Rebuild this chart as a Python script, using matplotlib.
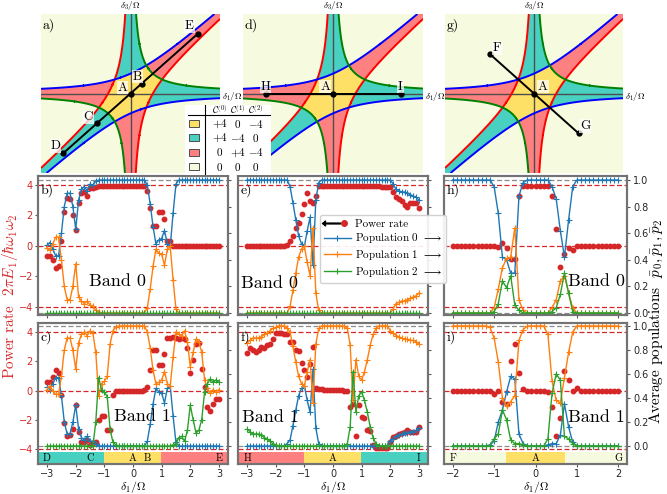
import numpy as np
import matplotlib.pyplot as plt
from matplotlib.colors import ListedColormap
from matplotlib.lines import Line2D
from matplotlib.patches import Rectangle
from matplotlib.legend_handler import HandlerTuple

plt.rcParams['mathtext.fontset'] = 'cm'
plt.rcParams['font.family'] = ['DejaVu Sans']
SERIF = 'cmr10'

RED = '#d62728'
LINE_COLORS = ['#1f77b4', '#ff7f0e', '#2ca02c']
# yellow, teal, pink, pale (trivial)
REGION_COLORS = ['#FFE066', '#48D1C0', '#FF8080', '#F6FADF']
cmap_regions = ListedColormap(REGION_COLORS)

# ==========================================
# phase diagram: gap constant and chern table
# ==========================================
GAP = 1.0
chern_rows = [['+4', '0', '-4'],
              ['+4', '-4', '0'],
              ['0', '+4', '-4'],
              ['0', '0', '0']]

# paths through the diagram (labels, delta1, delta3)
path_a_lab = ['D', 'C', 'A', 'B', 'E']
path_a_d1 = [-3.0, -1.5, 0.0, 0.5, 3.0]
path_a_d3 = [-3.0, -1.5, 0.0, 0.5, 3.0]
path_d_lab = ['H', 'A', 'I']
path_d_d1 = [-3.0, 0.0, 3.0]
path_d_d3 = [0.0, 0.0, 0.0]
path_g_lab = ['F', 'A', 'G']
path_g_d1 = [-2.0, 0.0, 2.0]
path_g_d3 = [2.0, 0.0, -2.0]

# ==========================================
# sweeps (delta1 along the path)
# ==========================================
x_long = np.round(np.arange(-30, 31) * 0.1, 1)
x_short = np.round(np.arange(-20, 21) * 0.1, 1)

# --- path D-E, band 0 (panel b)
pow_b = [-0.63, -0.63, -0.95, -1.45, -1.30, 0.30, 2.20, 3.15, 3.05, 2.00,
         1.05, 2.85, 3.50, 3.55, 3.30, 3.80, 3.80, 3.90, 3.95, 3.95,
         3.95, 3.95, 3.95, 3.95, 3.95, 3.95, 3.95, 3.95, 3.95, 3.95,
         3.95, 3.95, 3.95, 3.95, 3.95, 3.60, 2.50, 1.30, 1.30, 2.20,
         2.20, 1.75, 0.30, 0.30, 0.00, 0.00, 0.00, 0.00, 0.00, 0.00,
         0.00, 0.00, 0.00, 0.00, 0.00, 0.00, 0.00, 0.00, 0.00, 0.00,
         0.00]
p0_b = [0.51, 0.53, 0.48, 0.43, 0.43, 0.60, 0.80, 0.90, 0.90, 0.80,
        0.63, 0.85, 0.93, 0.95, 0.92, 0.97, 0.96, 0.99, 1.00, 1.00,
        1.00, 1.00, 1.00, 1.00, 1.00, 1.00, 1.00, 1.00, 1.00, 1.00,
        1.00, 1.00, 1.00, 1.00, 1.00, 0.96, 0.82, 0.65, 0.52, 0.55,
        0.56, 0.62, 0.52, 0.50, 0.75, 0.97, 1.00, 1.00, 1.00, 1.00,
        1.00, 1.00, 1.00, 1.00, 1.00, 1.00, 1.00, 1.00, 1.00, 1.00,
        1.00]
p1_b = [0.49, 0.47, 0.52, 0.57, 0.57, 0.40, 0.20, 0.10, 0.10, 0.20,
        0.37, 0.12, 0.09, 0.07, 0.09, 0.06, 0.05, 0.02, 0.01, 0.00,
        0.00, 0.00, 0.00, 0.00, 0.00, 0.00, 0.00, 0.00, 0.00, 0.00,
        0.00, 0.00, 0.00, 0.00, 0.00, 0.04, 0.18, 0.35, 0.48, 0.45,
        0.44, 0.36, 0.48, 0.50, 0.25, 0.03, 0.00, 0.00, 0.00, 0.00,
        0.00, 0.00, 0.00, 0.00, 0.00, 0.00, 0.00, 0.00, 0.00, 0.00,
        0.00]
p2_b = [0.0] * 61

# --- path D-E, band 1 (panel c)
pow_c = [0.60, 0.60, 0.90, 1.40, 1.20, -0.30, -2.20, -3.10, -3.05, -2.60,
         -1.00, -2.80, -3.50, -3.50, -3.40, -3.70, -3.60, -3.55, -2.00, -1.77,
         -1.77, -2.68, -2.68, -0.30, 0.00, 0.00, 0.00, 0.00, 0.00, 0.00,
         0.00, 0.00, 0.00, 0.00, 0.05, 0.27, 1.40, 2.75, 2.75, 1.75,
         1.75, 2.50, 3.60, 3.60, 3.65, 3.60, 3.50, 3.60, 3.55, 2.90,
         1.20, 2.10, 3.20, 3.25, 1.50, 0.27, -1.10, -1.40, -0.90, -0.57,
         -0.57]
p0_c = [0.49, 0.47, 0.52, 0.57, 0.57, 0.42, 0.20, 0.10, 0.10, 0.20,
        0.34, 0.14, 0.07, 0.05, 0.08, 0.04, 0.04, 0.02, 0.00, 0.00,
        0.00, 0.00, 0.00, 0.00, 0.00, 0.00, 0.00, 0.00, 0.00, 0.00,
        0.00, 0.00, 0.00, 0.00, 0.00, 0.04, 0.18, 0.35, 0.48, 0.45,
        0.44, 0.36, 0.48, 0.50, 0.25, 0.03, 0.00, 0.00, 0.00, 0.00,
        0.00, 0.00, 0.00, 0.00, 0.00, 0.00, 0.00, 0.00, 0.00, 0.00,
        0.00]
p1_c = [0.47, 0.50, 0.46, 0.43, 0.43, 0.58, 0.80, 0.90, 0.90, 0.80,
        0.64, 0.86, 0.93, 0.95, 0.92, 0.96, 0.94, 0.78, 0.42, 0.52,
        0.54, 0.58, 0.85, 0.96, 0.99, 1.00, 1.00, 1.00, 1.00, 1.00,
        1.00, 1.00, 1.00, 1.00, 1.00, 0.95, 0.82, 0.63, 0.52, 0.53,
        0.55, 0.62, 0.52, 0.50, 0.74, 0.95, 0.93, 0.92, 0.96, 0.87,
        0.66, 0.78, 0.89, 0.87, 0.78, 0.55, 0.48, 0.44, 0.47, 0.45,
        0.47]
p2_c = [0.00, 0.00, 0.00, 0.00, 0.00, 0.00, 0.00, 0.00, 0.00, 0.00,
        0.00, 0.00, 0.00, 0.00, 0.00, 0.00, 0.00, 0.20, 0.57, 0.47,
        0.45, 0.41, 0.14, 0.03, 0.01, 0.00, 0.00, 0.00, 0.00, 0.00,
        0.00, 0.00, 0.00, 0.00, 0.00, 0.00, 0.00, 0.00, 0.00, 0.00,
        0.00, 0.00, 0.00, 0.00, 0.01, 0.02, 0.07, 0.08, 0.04, 0.13,
        0.34, 0.22, 0.11, 0.13, 0.22, 0.45, 0.52, 0.56, 0.53, 0.55,
        0.53]

# --- path H-I, band 0 (panel e)
pow_e = [0.00, 0.00, 0.00, 0.00, 0.00, 0.00, 0.00, 0.00, 0.00, 0.00,
         0.00, 0.00, 0.00, 0.00, 0.05, 0.30, 0.65, 1.15, 1.50, 2.10,
         2.75, 3.50, 2.95, 2.85, 3.30, 3.95, 3.95, 3.95, 3.95, 3.95,
         3.95, 3.95, 3.95, 3.95, 3.95, 3.95, 3.95, 3.95, 3.95, 3.95,
         3.95, 3.95, 3.95, 3.95, 3.93, 3.92, 3.92, 3.90, 3.90, 3.88,
         3.85, 3.55, 3.20, 3.10, 2.95, 2.70, 2.55, 2.85, 2.85, 2.80,
         2.50]
p0_e = [1.00, 1.00, 1.00, 1.00, 1.00, 1.00, 1.00, 1.00, 1.00, 1.00,
        1.00, 1.00, 1.00, 1.00, 1.00, 0.95, 0.83, 0.70, 0.58, 0.52,
        0.50, 0.62, 0.72, 0.36, 0.85, 0.98, 1.00, 1.00, 1.00, 1.00,
        1.00, 1.00, 1.00, 1.00, 1.00, 1.00, 1.00, 1.00, 1.00, 1.00,
        1.00, 1.00, 1.00, 1.00, 1.00, 1.00, 1.00, 1.00, 1.00, 1.00,
        1.00, 0.97, 0.93, 0.92, 0.91, 0.91, 0.90, 0.89, 0.88, 0.87,
        0.85]
p1_e = [0.00, 0.00, 0.00, 0.00, 0.00, 0.00, 0.00, 0.00, 0.00, 0.00,
        0.00, 0.00, 0.00, 0.00, 0.00, 0.05, 0.17, 0.30, 0.42, 0.48,
        0.50, 0.38, 0.28, 0.64, 0.15, 0.02, 0.00, 0.00, 0.00, 0.00,
        0.00, 0.00, 0.00, 0.00, 0.00, 0.00, 0.00, 0.00, 0.00, 0.00,
        0.00, 0.00, 0.00, 0.00, 0.00, 0.00, 0.00, 0.00, 0.00, 0.00,
        0.00, 0.03, 0.07, 0.08, 0.09, 0.09, 0.10, 0.11, 0.12, 0.13,
        0.15]
p2_e = [0.0] * 61

# --- path H-I, band 1 (panel f)
pow_f = [2.55, 2.90, 2.80, 2.65, 2.75, 3.00, 2.90, 3.10, 3.20, 3.55,
         3.95, 3.95, 3.95, 3.90, 3.90, 3.35, 3.30, 2.80, 2.70, 1.90,
         1.40, 0.95, 1.85, 2.95, 0.20, 0.10, 0.08, 0.07, 0.06, 0.05,
         0.05, 0.04, 0.03, 0.02, 0.00, -0.05, -1.10, -0.90, -3.10, -1.00,
         -1.80, -1.90, -2.70, -2.75, -3.75, -3.90, -3.95, -3.95, -3.95, -3.90,
         -3.55, -3.15, -3.10, -3.00, -2.90, -2.80, -2.70, -2.85, -2.80, -2.85,
         -2.50]
p0_f = [0.00, 0.00, 0.00, 0.00, 0.00, 0.00, 0.00, 0.00, 0.00, 0.00,
        0.00, 0.00, 0.00, 0.00, 0.02, 0.05, 0.17, 0.30, 0.42, 0.48,
        0.50, 0.38, 0.28, 0.64, 0.15, 0.02, 0.00, 0.00, 0.00, 0.00,
        0.00, 0.00, 0.00, 0.00, 0.00, 0.00, 0.00, 0.00, 0.00, 0.00,
        0.00, 0.00, 0.00, 0.00, 0.00, 0.00, 0.00, 0.00, 0.00, 0.00,
        0.04, 0.06, 0.08, 0.09, 0.10, 0.11, 0.11, 0.12, 0.12, 0.13,
        0.15]
p1_f = [0.86, 0.88, 0.90, 0.90, 0.90, 0.91, 0.93, 0.94, 0.96, 0.98,
        0.99, 1.00, 1.00, 1.00, 0.98, 0.95, 0.83, 0.70, 0.58, 0.52,
        0.50, 0.62, 0.72, 0.36, 0.85, 0.98, 1.00, 1.00, 1.00, 1.00,
        1.00, 1.00, 1.00, 1.00, 1.00, 0.98, 0.84, 0.38, 0.72, 0.58,
        0.55, 0.62, 0.72, 0.84, 0.93, 0.98, 1.00, 1.00, 1.00, 1.00,
        0.96, 0.94, 0.92, 0.91, 0.90, 0.89, 0.89, 0.88, 0.88, 0.87,
        0.85]
p2_f = [0.14, 0.12, 0.10, 0.10, 0.10, 0.09, 0.07, 0.06, 0.04, 0.02,
        0.01, 0.00, 0.00, 0.00, 0.00, 0.00, 0.00, 0.00, 0.00, 0.00,
        0.00, 0.00, 0.00, 0.00, 0.00, 0.00, 0.00, 0.00, 0.00, 0.00,
        0.00, 0.00, 0.00, 0.00, 0.00, 0.02, 0.16, 0.62, 0.28, 0.42,
        0.45, 0.38, 0.28, 0.16, 0.07, 0.02, 0.00, 0.00, 0.00, 0.00,
        0.00, 0.00, 0.00, 0.00, 0.00, 0.00, 0.00, 0.00, 0.00, 0.00,
        0.00]

# --- path F-G, band 0 (panel h)
pow_h = [0.00, 0.00, 0.00, 0.00, 0.00, 0.00, 0.00, 0.00, 0.00, 0.00,
         0.00, -0.10, 0.20, -0.15, -0.85, -0.85, 3.30, 3.95, 3.95, 3.95,
         3.95, 3.95, 3.95, 3.95, 3.30, 1.10, -1.40, -0.50, -0.15, -0.25,
         0.00, 0.00, 0.00, 0.00, 0.00, 0.00, 0.00, 0.00, 0.00, 0.00,
         0.00]
p0_h = [1.00, 1.00, 1.00, 1.00, 1.00, 1.00, 1.00, 1.00, 1.00, 1.00,
        0.95, 0.75, 0.42, 0.40, 0.30, 0.30, 0.88, 0.98, 1.00, 1.00,
        1.00, 1.00, 1.00, 1.00, 0.95, 0.86, 0.62, 0.42, 0.70, 0.95,
        1.00, 1.00, 1.00, 1.00, 1.00, 1.00, 1.00, 1.00, 1.00, 1.00,
        1.00]
p1_h = [0.00, 0.00, 0.00, 0.00, 0.00, 0.00, 0.00, 0.00, 0.00, 0.00,
        0.04, 0.18, 0.34, 0.41, 0.42, 0.64, 0.10, 0.02, 0.00, 0.00,
        0.00, 0.00, 0.00, 0.00, 0.04, 0.10, 0.24, 0.28, 0.15, 0.04,
        0.00, 0.00, 0.00, 0.00, 0.00, 0.00, 0.00, 0.00, 0.00, 0.00,
        0.00]
p2_h = [0.00, 0.00, 0.00, 0.00, 0.00, 0.00, 0.00, 0.00, 0.00, 0.00,
        0.01, 0.07, 0.24, 0.19, 0.28, 0.06, 0.02, 0.00, 0.00, 0.00,
        0.00, 0.00, 0.00, 0.00, 0.01, 0.04, 0.14, 0.30, 0.15, 0.01,
        0.00, 0.00, 0.00, 0.00, 0.00, 0.00, 0.00, 0.00, 0.00, 0.00,
        0.00]

# --- path F-G, band 1 (panel i)
pow_i = [0.00, 0.00, 0.00, 0.00, 0.00, 0.00, 0.00, 0.00, 0.00, -0.05,
         -0.25, 0.00, -0.75, -0.90, 2.00, 3.20, 1.20, 0.10, 0.00, 0.00,
         0.00, 0.00, 0.00, -0.10, -1.10, -3.10, -1.90, 1.35, 0.70, -0.05,
         0.20, 0.00, 0.00, 0.00, 0.00, 0.00, 0.00, 0.00, 0.00, 0.00,
         0.00]
p0_i = [0.00, 0.00, 0.00, 0.00, 0.00, 0.00, 0.00, 0.00, 0.00, 0.01,
        0.04, 0.20, 0.30, 0.45, 0.58, 0.56, 0.10, 0.02, 0.00, 0.00,
        0.00, 0.00, 0.00, 0.01, 0.02, 0.02, 0.09, 0.35, 0.16, 0.03,
        0.00, 0.00, 0.00, 0.00, 0.00, 0.00, 0.00, 0.00, 0.00, 0.00,
        0.00]
p1_i = [1.00, 1.00, 1.00, 1.00, 1.00, 1.00, 1.00, 1.00, 1.00, 0.99,
        0.90, 0.70, 0.40, 0.33, 0.37, 0.42, 0.88, 0.97, 1.00, 1.00,
        1.00, 1.00, 1.00, 0.93, 0.54, 0.38, 0.36, 0.57, 0.78, 0.95,
        1.00, 1.00, 1.00, 1.00, 1.00, 1.00, 1.00, 1.00, 1.00, 1.00,
        1.00]
p2_i = [0.00, 0.00, 0.00, 0.00, 0.00, 0.00, 0.00, 0.00, 0.00, 0.00,
        0.06, 0.10, 0.30, 0.22, 0.05, 0.02, 0.02, 0.01, 0.00, 0.00,
        0.00, 0.00, 0.00, 0.06, 0.44, 0.60, 0.55, 0.08, 0.06, 0.02,
        0.00, 0.00, 0.00, 0.00, 0.00, 0.00, 0.00, 0.00, 0.00, 0.00,
        0.00]


def region(d1, d3):
    # 0: central, 1: teal, 2: pink, 3: trivial
    fr = d1 * (d1 - d3) > GAP
    fb = d3 * (d3 - d1) > GAP
    fg = d1 * d3 > GAP
    n = fr.astype(int) + fb.astype(int) + fg.astype(int)
    teal = (fr & (d1 > 0)) | (fb & (d3 > 0)) | (fg & (d1 < 0))
    return np.where(n == 0, 0, np.where(n >= 2, 3, np.where(teal, 1, 2)))


def draw_phase(ax, d1p, d3p, labs, offs, tag):
    g = np.linspace(-4, 4, 801)
    D1, D3 = np.meshgrid(g, g)
    ax.imshow(region(D1, D3), cmap=cmap_regions, vmin=-0.5, vmax=3.5,
              origin='lower', extent=(-4, 4, -4, 4), aspect='auto',
              interpolation='nearest')
    ax.axhline(0, color='0.3', lw=1)
    ax.axvline(0, color='0.3', lw=1)
    ax.contour(D1, D3, D1 * (D1 - D3), levels=[GAP], colors='red', linewidths=1.4)
    ax.contour(D1, D3, D3 * (D3 - D1), levels=[GAP], colors='blue', linewidths=1.4)
    ax.contour(D1, D3, D1 * D3, levels=[GAP], colors='green', linewidths=1.4)
    ax.plot(d1p, d3p, color='k', lw=1.4)
    ax.plot(d1p, d3p, 'o', color='k', ms=3.5)
    for xv, yv, lab, (dx, dy) in zip(d1p, d3p, labs, offs):
        ax.text(xv + dx, yv + dy, lab, ha='center', va='center', family=SERIF,
                fontsize=9.5, bbox=dict(facecolor='white', alpha=0.75,
                                        edgecolor='none', pad=0.6))
    ax.text(0, 4.1, r'$\delta_3/\Omega$', ha='center', va='bottom', fontsize=6.5)
    ax.text(4.08, -0.15, r'$\delta_1/\Omega$', ha='left', va='center', fontsize=6.5)
    ax.text(-3.92, 3.45, tag, family=SERIF, fontsize=10, va='center')
    ax.set_xlim(-4, 4)
    ax.set_ylim(-4, 4)
    ax.axis('off')


def draw_band(ax, x, pw, pops, pd1, pd3, plab, tag, band, bpos, bha, bottom, col):
    lo_l, hi_l = (-5.02, 4.62) if bottom else (-4.53, 4.59)
    lo_r, hi_r = (-0.15, 1.025) if bottom else (-0.015, 1.03)
    span = x[-1] - x[0]
    x0, x1 = x[0] - 0.053 * span, x[-1] + 0.053 * span

    for yv in (4, 0, -4):
        ax.axhline(yv, color=RED, ls='--', lw=0.9, dashes=(4, 2))
    ax.plot(x, pw, 'o', color=RED, ms=3.2, ls='none', zorder=3)

    if bottom:
        xs = np.linspace(x0, x1, 900)
        slope = (pd3[-1] - pd3[0]) / (pd1[-1] - pd1[0])
        ax.imshow(region(xs, slope * xs)[None, :], cmap=cmap_regions, vmin=-0.5,
                  vmax=3.5, extent=(x0, x1, lo_l, -4.2), aspect='auto',
                  interpolation='nearest', zorder=1)
        for xv, lab in zip(pd1, plab):
            ax.text(xv, -4.62, lab, ha='center', va='center', family=SERIF,
                    fontsize=7.5, zorder=4)
        ax.set_xlabel(r'$\delta_1/\Omega$', fontsize=8.5, va='top')
        ax.xaxis.set_label_coords(0.5, -0.105)

    axr = ax.twinx()
    axr.axhline(1, color='0.55', ls='--', lw=0.9, dashes=(4, 2))
    axr.axhline(0, color='0.55', ls='--', lw=0.9, dashes=(4, 2))
    for p, c in zip(pops, LINE_COLORS):
        axr.plot(x, p, color=c, lw=1.0, marker='+', ms=4, mew=0.8)

    ax.set_xlim(x0, x1)
    ax.set_ylim(lo_l, hi_l)
    axr.set_ylim(lo_r, hi_r)
    ax.set_xticks(np.arange(x[0], x[-1] + 0.5, 1.0))
    ax.set_yticks([-4, -2, 0, 2, 4])
    axr.set_yticks([0.0, 0.2, 0.4, 0.6, 0.8, 1.0])
    axr.set_yticklabels(['0.0', '0.2', '0.4', '0.6', '0.8', '1.0'])

    ax.tick_params(axis='x', labelbottom=bottom, colors='0.35', labelcolor='0.15',
                   length=2.5, width=0.8, labelsize=7, pad=1)
    ax.tick_params(axis='y', left=(col == 0), labelleft=(col == 0), colors='0.35',
                   labelcolor=RED, length=2.5, width=0.8, labelsize=7, pad=1.2)
    axr.tick_params(axis='y', labelright=(col == 2), colors='0.35', labelcolor='0.15',
                    length=2.5, width=0.8, labelsize=7, pad=2)
    for a in (ax, axr):
        for s in a.spines.values():
            s.set_color('0.45')
            s.set_linewidth(1.5)

    axr.text(0.012, 0.9, tag, transform=ax.transAxes, family=SERIF, fontsize=10,
             va='center')
    axr.text(bpos[0], bpos[1], band, transform=ax.transAxes, family=SERIF,
             fontsize=13, ha=bha, va='center')


fig = plt.figure(figsize=(6.67, 4.94), dpi=100)
W, H = 667.0, 494.0

# ---- phase diagrams
ax_a = fig.add_axes([41 / W, 1 - 173 / H, 179 / W, 159 / H])
ax_d = fig.add_axes([243 / W, 1 - 173 / H, 180 / W, 159 / H])
ax_g = fig.add_axes([445 / W, 1 - 173 / H, 178 / W, 159 / H])
draw_phase(ax_a, path_a_d1, path_a_d3, path_a_lab,
           [(-0.35, 0.35), (-0.4, 0.3), (-0.36, 0.3), (-0.2, 0.35), (-0.37, 0.4)], 'a)')
draw_phase(ax_d, path_d_d1, path_d_d3, path_d_lab,
           [(0.0, 0.35), (-0.35, 0.35), (0.0, 0.35)], 'd)')
draw_phase(ax_g, path_g_d1, path_g_d3, path_g_lab,
           [(0.35, 0.3), (0.4, 0.35), (0.3, 0.35)], 'g)')

# ---- band panels
cols_l = [38 / W, 238 / W, 444 / W]
cols_w = [190 / W, 190 / W, 183 / W]
row_top = [1 - 315 / H, 139 / H]
row_bot = [1 - 464 / H, 141 / H]

panels = [
    (0, False, x_long, pow_b, [p0_b, p1_b, p2_b], path_a_d1, path_a_d3, path_a_lab, 'b)', 'Band 0', (0.42, 0.24), 'center'),
    (0, True, x_long, pow_c, [p0_c, p1_c, p2_c], path_a_d1, path_a_d3, path_a_lab, 'c)', 'Band 1', (0.55, 0.34), 'center'),
    (1, False, x_long, pow_e, [p0_e, p1_e, p2_e], path_d_d1, path_d_d3, path_d_lab, 'e)', 'Band 0', (0.015, 0.23), 'left'),
    (1, True, x_long, pow_f, [p0_f, p1_f, p2_f], path_d_d1, path_d_d3, path_d_lab, 'f)', 'Band 1', (0.02, 0.33), 'left'),
    (2, False, x_short, pow_h, [p0_h, p1_h, p2_h], path_g_d1, path_g_d3, path_g_lab, 'h)', 'Band 0', (0.99, 0.24), 'right'),
    (2, True, x_short, pow_i, [p0_i, p1_i, p2_i], path_g_d1, path_g_d3, path_g_lab, 'i)', 'Band 1', (0.99, 0.33), 'right'),
]
for col, bottom, x, pw, pops, pd1, pd3, plab, tag, band, bpos, bha in panels:
    r = row_bot if bottom else row_top
    ax = fig.add_axes([cols_l[col], r[0], cols_w[col], r[1]])
    draw_band(ax, x, pw, pops, pd1, pd3, plab, tag, band, bpos, bha, bottom, col)

# ---- axis titles
fig.text(0.0145, 0.40, r'Power rate  $2\pi\dot{E}_1/\hbar\omega_1\omega_2$', rotation=90,
         color=RED, family=SERIF, fontsize=11, ha='center', va='center')
fig.text(0.984, 0.35, r'Average populations  $\bar{p}_0, \bar{p}_1, \bar{p}_2$',
         rotation=90, family=SERIF, fontsize=11, ha='center', va='center')

# ---- legend
h_pow = (Line2D([], [], ls='none', marker=r'$\longleftarrow$', ms=13, color='k'),
         Line2D([], [], ls='none', marker='o', ms=4, color=RED))
h_pops = [Line2D([], [], color=c, lw=1, marker='+', ms=5, mew=0.8) for c in LINE_COLORS]
leg_labels = ['Power rate'] + ['Population %d ' % k + r'$\longrightarrow$' for k in range(3)]
fig.legend([h_pow] + h_pops, leg_labels, loc='upper left',
           bbox_to_anchor=(320 / W, 1 - 215 / H), prop={'family': SERIF, 'size': 8},
           numpoints=1, handlelength=2.4, handletextpad=0.4, labelspacing=0.25,
           borderpad=0.35, borderaxespad=0.0, framealpha=0.9, edgecolor='0.8',
           fancybox=True, handler_map={tuple: HandlerTuple(ndivide=2, pad=0.0)})

# ---- chern number table
tax = fig.add_axes([185 / W, 1 - 175 / H, 86 / W, 70 / H], zorder=10)
tax.set_xlim(0, 86)
tax.set_ylim(70, 0)
tax.set_xticks([])
tax.set_yticks([])
for s in tax.spines.values():
    s.set_visible(False)
tax.patch.set_facecolor('white')
col_x = [35, 53, 71]
for k, cx in enumerate(col_x):
    tax.text(cx, 5, r'$\mathcal{C}^{(%d)}$' % k, ha='center', va='center', fontsize=7)
tax.plot([3, 85], [10.5, 10.5], color='k', lw=0.8)
tax.plot([20, 20], [0, 70], color='k', lw=0.8)
row_y = [19, 33, 47.5, 62]
for ry, row, c in zip(row_y, chern_rows, REGION_COLORS):
    tax.add_patch(Rectangle((4, ry - 3.5), 10, 7, facecolor=c, edgecolor='0.3', lw=0.7))
    for cx, v in zip(col_x, row):
        tax.text(cx, ry, '$%s$' % v, ha='center', va='center', fontsize=8)

fig.savefig('out.png', dpi=100)
